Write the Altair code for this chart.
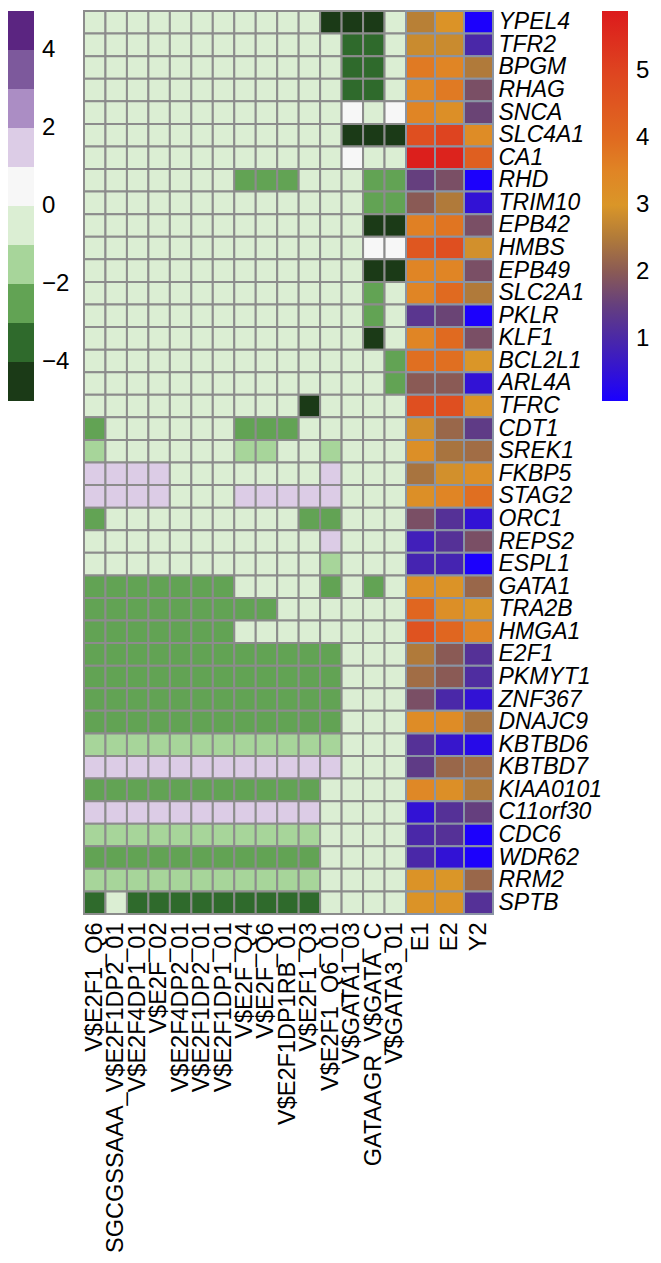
import altair as alt
import pandas as pd

genes = ["YPEL4", "TFR2", "BPGM", "RHAG", "SNCA", "SLC4A1", "CA1", "RHD", "TRIM10",
         "EPB42", "HMBS", "EPB49", "SLC2A1", "PKLR", "KLF1", "BCL2L1", "ARL4A", "TFRC",
         "CDT1", "SREK1", "FKBP5", "STAG2", "ORC1", "REPS2", "ESPL1", "GATA1", "TRA2B",
         "HMGA1", "E2F1", "PKMYT1", "ZNF367", "DNAJC9", "KBTBD6", "KBTBD7", "KIAA0101",
         "C11orf30", "CDC6", "WDR62", "RRM2", "SPTB"]

motifs = ["V$E2F1_Q6", "SGCGSSAAA_V$E2F1DP2_01", "V$E2F4DP1_01", "V$E2F_02",
          "V$E2F4DP2_01", "V$E2F1DP2_01", "V$E2F1DP1_01", "V$E2F_Q4", "V$E2F_Q6",
          "V$E2F1DP1RB_01", "V$E2F1_Q3", "V$E2F1_Q6_01", "V$GATA1_03",
          "GATAAGR_V$GATA_C", "V$GATA3_01"]

expr_cols = ["E1", "E2", "Y2"]

# motif scores, one list per motif column (genes in order above)
m01 = [-0.5, -0.5, -0.5, -0.5, -0.5, -0.5, -0.5, -0.5, -0.5, -0.5,
       -0.5, -0.5, -0.5, -0.5, -0.5, -0.5, -0.5, -0.5, -2.5, -1.5,
       1.5, 1.5, -2.5, -0.5, -0.5, -2.5, -2.5, -2.5, -2.5, -2.5,
       -2.5, -2.5, -1.5, 1.5, -2.5, 1.5, -1.5, -2.5, -1.5, -3.5]
m02 = [-0.5, -0.5, -0.5, -0.5, -0.5, -0.5, -0.5, -0.5, -0.5, -0.5,
       -0.5, -0.5, -0.5, -0.5, -0.5, -0.5, -0.5, -0.5, -0.5, -0.5,
       1.5, 1.5, -0.5, -0.5, -0.5, -2.5, -2.5, -2.5, -2.5, -2.5,
       -2.5, -2.5, -1.5, 1.5, -2.5, 1.5, -1.5, -2.5, -1.5, -0.5]
m03 = [-0.5, -0.5, -0.5, -0.5, -0.5, -0.5, -0.5, -0.5, -0.5, -0.5,
       -0.5, -0.5, -0.5, -0.5, -0.5, -0.5, -0.5, -0.5, -0.5, -0.5,
       1.5, 1.5, -0.5, -0.5, -0.5, -2.5, -2.5, -2.5, -2.5, -2.5,
       -2.5, -2.5, -1.5, 1.5, -2.5, 1.5, -1.5, -2.5, -1.5, -3.5]
m04 = [-0.5, -0.5, -0.5, -0.5, -0.5, -0.5, -0.5, -0.5, -0.5, -0.5,
       -0.5, -0.5, -0.5, -0.5, -0.5, -0.5, -0.5, -0.5, -0.5, -0.5,
       1.5, 1.5, -0.5, -0.5, -0.5, -2.5, -2.5, -2.5, -2.5, -2.5,
       -2.5, -2.5, -1.5, 1.5, -2.5, 1.5, -1.5, -2.5, -1.5, -3.5]
m05 = [-0.5, -0.5, -0.5, -0.5, -0.5, -0.5, -0.5, -0.5, -0.5, -0.5,
       -0.5, -0.5, -0.5, -0.5, -0.5, -0.5, -0.5, -0.5, -0.5, -0.5,
       -0.5, -0.5, -0.5, -0.5, -0.5, -2.5, -2.5, -2.5, -2.5, -2.5,
       -2.5, -2.5, -1.5, 1.5, -2.5, 1.5, -1.5, -2.5, -1.5, -3.5]
m06 = [-0.5, -0.5, -0.5, -0.5, -0.5, -0.5, -0.5, -0.5, -0.5, -0.5,
       -0.5, -0.5, -0.5, -0.5, -0.5, -0.5, -0.5, -0.5, -0.5, -0.5,
       -0.5, -0.5, -0.5, -0.5, -0.5, -2.5, -2.5, -2.5, -2.5, -2.5,
       -2.5, -2.5, -1.5, 1.5, -2.5, 1.5, -1.5, -2.5, -1.5, -3.5]
m07 = [-0.5, -0.5, -0.5, -0.5, -0.5, -0.5, -0.5, -0.5, -0.5, -0.5,
       -0.5, -0.5, -0.5, -0.5, -0.5, -0.5, -0.5, -0.5, -0.5, -0.5,
       -0.5, -0.5, -0.5, -0.5, -0.5, -2.5, -2.5, -2.5, -2.5, -2.5,
       -2.5, -2.5, -1.5, 1.5, -2.5, 1.5, -1.5, -2.5, -1.5, -3.5]
m08 = [-0.5, -0.5, -0.5, -0.5, -0.5, -0.5, -0.5, -2.5, -0.5, -0.5,
       -0.5, -0.5, -0.5, -0.5, -0.5, -0.5, -0.5, -0.5, -2.5, -1.5,
       -0.5, 1.5, -0.5, -0.5, -0.5, -0.5, -2.5, -0.5, -2.5, -2.5,
       -2.5, -2.5, -1.5, 1.5, -2.5, 1.5, -1.5, -2.5, -1.5, -3.5]
m09 = [-0.5, -0.5, -0.5, -0.5, -0.5, -0.5, -0.5, -2.5, -0.5, -0.5,
       -0.5, -0.5, -0.5, -0.5, -0.5, -0.5, -0.5, -0.5, -2.5, -1.5,
       -0.5, 1.5, -0.5, -0.5, -0.5, -0.5, -2.5, -0.5, -2.5, -2.5,
       -2.5, -2.5, -1.5, 1.5, -2.5, 1.5, -1.5, -2.5, -1.5, -3.5]
m10 = [-0.5, -0.5, -0.5, -0.5, -0.5, -0.5, -0.5, -2.5, -0.5, -0.5,
       -0.5, -0.5, -0.5, -0.5, -0.5, -0.5, -0.5, -0.5, -2.5, -0.5,
       -0.5, 1.5, -0.5, -0.5, -0.5, -0.5, -0.5, -0.5, -2.5, -2.5,
       -2.5, -2.5, -1.5, 1.5, -2.5, 1.5, -1.5, -2.5, -1.5, -3.5]
m11 = [-0.5, -0.5, -0.5, -0.5, -0.5, -0.5, -0.5, -0.5, -0.5, -0.5,
       -0.5, -0.5, -0.5, -0.5, -0.5, -0.5, -0.5, -4.5, -0.5, -0.5,
       -0.5, 1.5, -2.5, -0.5, -0.5, -0.5, -0.5, -0.5, -2.5, -2.5,
       -2.5, -2.5, -1.5, 1.5, -2.5, 1.5, -1.5, -2.5, -1.5, -3.5]
m12 = [-4.5, -0.5, -0.5, -0.5, -0.5, -0.5, -0.5, -0.5, -0.5, -0.5,
       -0.5, -0.5, -0.5, -0.5, -0.5, -0.5, -0.5, -0.5, -0.5, -1.5,
       1.5, 1.5, -2.5, 1.5, -1.5, -2.5, -0.5, -0.5, -2.5, -2.5,
       -2.5, -2.5, -1.5, 1.5, -0.5, -0.5, -0.5, -0.5, -0.5, -0.5]
m13 = [-4.5, -3.5, -3.5, -3.5, 0.5, -4.5, 0.5, -0.5, -0.5, -0.5,
       -0.5, -0.5, -0.5, -0.5, -0.5, -0.5, -0.5, -0.5, -0.5, -0.5,
       -0.5, -0.5, -0.5, -0.5, -0.5, -0.5, -0.5, -0.5, -0.5, -0.5,
       -0.5, -0.5, -0.5, -0.5, -0.5, -0.5, -0.5, -0.5, -0.5, -0.5]
m14 = [-4.5, -3.5, -3.5, -3.5, -0.5, -4.5, -0.5, -2.5, -2.5, -4.5,
       0.5, -4.5, -2.5, -2.5, -4.5, -0.5, -0.5, -0.5, -0.5, -0.5,
       -0.5, -0.5, -0.5, -0.5, -0.5, -2.5, -0.5, -0.5, -0.5, -0.5,
       -0.5, -0.5, -0.5, -0.5, -0.5, -0.5, -0.5, -0.5, -0.5, -0.5]
m15 = [-0.5, -0.5, -0.5, -0.5, 0.5, -4.5, -0.5, -2.5, -2.5, -4.5,
       0.5, -4.5, -0.5, -0.5, -0.5, -2.5, -2.5, -0.5, -0.5, -0.5,
       -0.5, -0.5, -0.5, -0.5, -0.5, -0.5, -0.5, -0.5, -0.5, -0.5,
       -0.5, -0.5, -0.5, -0.5, -0.5, -0.5, -0.5, -0.5, -0.5, -0.5]
motif_cols = [m01, m02, m03, m04, m05, m06, m07, m08, m09, m10, m11, m12, m13, m14, m15]

# expression values
E1 = [2.6, 2.8, 3.7, 3.4, 3.5, 4.7, 5.8, 1.5, 2.0, 3.6,
      4.5, 3.5, 3.5, 1.3, 3.5, 3.9, 2.0, 4.7, 2.9, 3.2,
      2.4, 3.2, 1.8, 0.8, 0.9, 3.2, 4.1, 4.6, 2.5, 2.3,
      1.8, 3.3, 1.2, 1.4, 3.4, 0.5, 1.0, 1.0, 3.1, 3.1]
E2 = [3.1, 2.8, 3.5, 3.7, 3.2, 5.0, 5.7, 1.8, 2.5, 3.8,
      4.7, 3.5, 4.0, 1.6, 4.0, 3.9, 2.0, 4.7, 2.2, 2.4,
      2.9, 3.5, 1.2, 1.2, 0.9, 3.1, 3.2, 4.1, 2.0, 2.0,
      1.0, 3.3, 0.6, 2.2, 3.2, 1.2, 1.2, 0.5, 3.0, 3.1]
Y2 = [0.1, 1.0, 2.5, 1.8, 1.6, 3.3, 4.3, 0.1, 0.5, 1.8,
      2.9, 1.8, 2.5, 0.1, 1.8, 3.0, 0.5, 3.1, 1.4, 2.3,
      3.2, 3.9, 0.5, 1.8, 0.1, 2.2, 3.0, 3.5, 1.2, 1.1,
      0.5, 2.4, 0.3, 2.3, 2.5, 1.5, 0.1, 0.1, 2.2, 1.2]
expr_values = [E1, E2, Y2]

motif_colors = ["#1b3a17", "#2f6a2c", "#62a354", "#a7d59a", "#dbeed3",
                "#f7f7f7", "#dccce6", "#ab8dc4", "#7d599c", "#5b2581"]
expr_stops = [0.07, 0.55, 1.0, 1.6, 2.0, 2.5, 3.0, 3.5, 4.0, 5.0, 5.9]
expr_colors = ["#1a00ff", "#3514d0", "#4a28a8", "#6a4475", "#8a5a55", "#b07a3a",
               "#da9628", "#e08525", "#e06a20", "#de4420", "#dc1a1c"]
expr_ticks = [1, 2, 3, 4, 5]

mdf = pd.DataFrame([{"gene": g, "motif": m, "value": v}
                    for m, col in zip(motifs, motif_cols) for g, v in zip(genes, col)])
edf = pd.DataFrame([{"gene": g, "col": c, "value": v}
                    for c, col in zip(expr_cols, expr_values) for g, v in zip(genes, col)])

FONT = "Liberation Sans"
ROW_H = 903

left = alt.Chart(mdf).mark_rect(stroke="#8c8c8c", strokeWidth=2).encode(
    x=alt.X("motif:N", sort=motifs,
            axis=alt.Axis(title=None, labelAngle=-90, ticks=False, domain=False,
                          labelFontSize=23.5, labelFont=FONT, labelPadding=8,
                          labelColor="black", labelLimit=0)),
    y=alt.Y("gene:N", sort=genes, axis=None),
    color=alt.Color("value:Q",
                    scale=alt.Scale(type="quantize", domain=[-5, 5], nice=False, zero=False,
                                    range=motif_colors),
                    legend=alt.Legend(type="gradient", orient="left", title=None,
                                      gradientLength=390, gradientThickness=26, format="d",
                                      labelFontSize=24, labelFont=FONT, labelColor="black",
                                      labelOffset=8, offset=14,
                                      labelExpr="abs(round(datum.value)) % 2 == 0 && abs(datum.value) < 4.5 ? datum.label : ''"))
).properties(width=322, height=ROW_H)

right = alt.Chart(edf).mark_rect(stroke="#8a94a4", strokeWidth=2).encode(
    x=alt.X("col:N", sort=expr_cols,
            axis=alt.Axis(title=None, labelAngle=-90, ticks=False, domain=False,
                          labelFontSize=23.5, labelFont=FONT, labelPadding=8,
                          labelColor="black", labelLimit=0)),
    y=alt.Y("gene:N", sort=genes,
            axis=alt.Axis(orient="right", title=None, ticks=False, domain=False,
                          labelFontSize=23, labelFont=FONT, labelFontStyle="italic",
                          labelPadding=5, labelColor="black", labelLimit=0)),
    color=alt.Color("value:Q",
                    scale=alt.Scale(domain=expr_stops, range=expr_colors, interpolate="rgb"),
                    legend=alt.Legend(orient="right", title=None, gradientLength=390,
                                      gradientThickness=26, values=expr_ticks, format="d",
                                      labelFontSize=24, labelFont=FONT, labelColor="black",
                                      labelOffset=8, offset=0))
).properties(width=87, height=ROW_H)

chart = alt.hconcat(left, right, spacing=0).resolve_scale(
    color="independent", x="independent", y="independent"
).configure_view(strokeWidth=0).properties(
    padding={"top": 2, "left": 0, "right": 0, "bottom": 0}, bounds="flush")

chart.save("out.html", embed_options={"renderer": "svg", "actions": False})
